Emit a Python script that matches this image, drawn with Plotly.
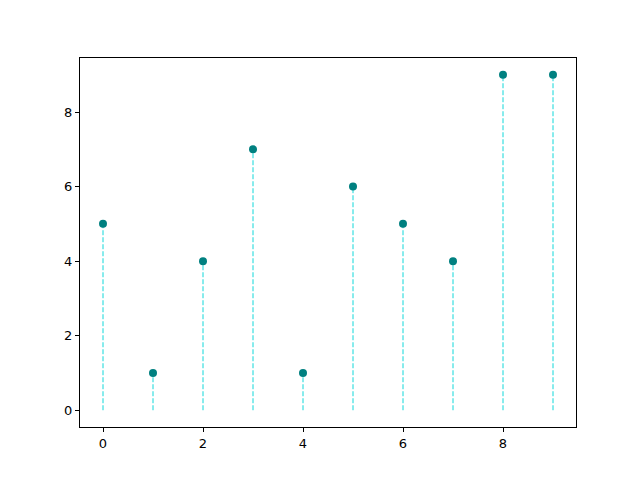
import plotly.graph_objects as go

# datos del stem plot
x_vals = [0, 1, 2, 3, 4, 5, 6, 7, 8, 9]
y_vals = [5, 1, 4, 7, 1, 6, 5, 4, 9, 9]
x_ticks = [0, 2, 4, 6, 8]
y_ticks = [0, 2, 4, 6, 8]

# segmentos verticales (de 0 al valor)
stem_x = []
stem_y = []
for x, y in zip(x_vals, y_vals):
    stem_x += [x, x, None]
    stem_y += [0, y, None]

fig = go.Figure()
fig.add_trace(go.Scatter(
    x=stem_x, y=stem_y, mode="lines",
    line=dict(color="#10d8da", width=1, dash="5px,2px"),
    hoverinfo="skip", showlegend=False
))
fig.add_trace(go.Scatter(
    x=x_vals, y=y_vals, mode="markers",
    marker=dict(color="#008080", size=8),
    showlegend=False
))

axis_style = dict(
    showgrid=False, zeroline=False, showline=True, linecolor="black",
    linewidth=1, mirror=True, ticks="outside", ticklen=4, tickcolor="black",
    tickfont=dict(family="DejaVu Sans", size=13, color="black")
)

fig.update_layout(
    width=640, height=480,
    paper_bgcolor="white", plot_bgcolor="white",
    margin=dict(l=72, r=72, t=50, b=61),
    xaxis=dict(range=[-0.46, 9.46], tickvals=x_ticks, **axis_style),
    yaxis=dict(range=[-0.45, 9.45], tickvals=y_ticks, **axis_style),
)

fig.write_html("out.html")
